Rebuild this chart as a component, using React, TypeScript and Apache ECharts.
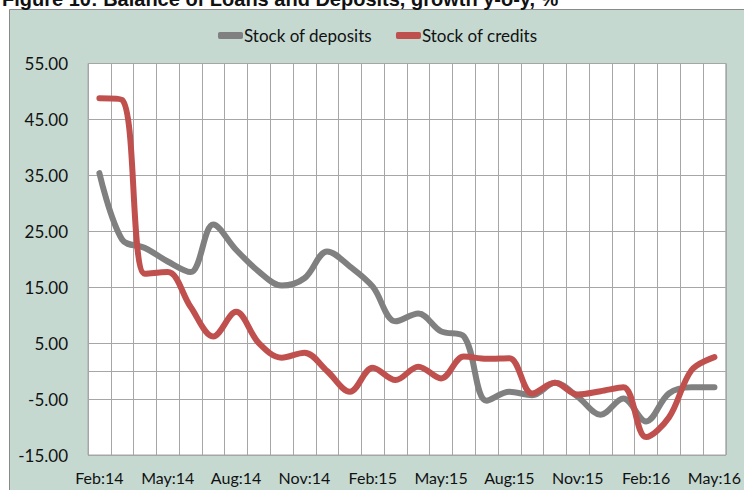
import React, { useEffect, useRef } from "react";
import * as echarts from "echarts";

const categories = [
  "Feb:14", "Mar:14", "Apr:14", "May:14", "Jun:14", "Jul:14", "Aug:14", "Sep:14", "Oct:14", "Nov:14", "Dec:14", "Jan:15",
  "Feb:15", "Mar:15", "Apr:15", "May:15", "Jun:15", "Jul:15", "Aug:15", "Sep:15", "Oct:15", "Nov:15", "Dec:15", "Jan:16",
  "Feb:16", "Mar:16", "Apr:16", "May:16",
];

const deposits = [
  35.4, 23.5, 22.0, 19.6, 17.7, 26.2, 21.7, 17.8, 15.3, 16.6, 21.4, 18.7,
  15.1, 8.9, 10.3, 7.1, 6.2, -5.3, -3.7, -4.3, -2.1, -4.6, -7.8, -4.9,
  -9.0, -4.0, -2.9, -2.9,
];

const credits = [
  48.8, 48.5, 17.4, 17.7, 11.5, 6.2, 10.6, 5.0, 2.4, 3.3, 0.0, -3.7,
  0.6, -1.6, 0.8, -1.3, 2.6, 2.2, 2.3, -4.0, -2.1, -4.2, -3.6, -2.9,
  -11.8, -8.3, 0.2, 2.5,
];

const seriesNames = ["Stock of deposits", "Stock of credits"];
const titleText = "Figure 10: Balance of Loans and Deposits, growth y-o-y, %";

export default function App() {
  const ref = useRef<HTMLDivElement>(null);
  useEffect(() => {
    if (!ref.current) return;
    const chart = echarts.init(ref.current, null, { renderer: "svg" });
    const font = "Lato, 'Open Sans', sans-serif";
    chart.setOption({
      animation: false,
      backgroundColor: "#ffffff",
      graphic: [
        {
          type: "rect",
          z: -10,
          silent: true,
          shape: { x: 9.5, y: 9.5, width: 760, height: 500 },
          style: { fill: "#c5d9d1", stroke: "#8a8a8a", lineWidth: 1 },
        },
        {
          type: "text",
          z: -5,
          silent: true,
          x: 2,
          y: 9,
          style: {
            text: titleText,
            font: "bold 20px 'Liberation Sans', Arial, sans-serif",
            fill: "#111111",
            verticalAlign: "bottom",
          },
        },
      ],
      legend: {
        data: seriesNames,
        left: 213,
        top: 22,
        icon: "roundRect",
        itemWidth: 25,
        itemHeight: 7,
        itemGap: 24,
        textStyle: {
          fontFamily: font,
          fontSize: 17,
          color: "#111111",
          padding: [0, 0, 0, -4],
        },
      },
      grid: {
        left: 88,
        top: 63.5,
        right: 16,
        bottom: 35,
        show: true,
        backgroundColor: "#ffffff",
        borderColor: "#a6a6a6",
        borderWidth: 1,
      },
      xAxis: {
        type: "category",
        data: categories,
        boundaryGap: true,
        axisLine: { show: false },
        axisTick: { show: false },
        axisLabel: {
          interval: 2,
          fontFamily: font,
          fontSize: 16,
          color: "#111111",
          margin: 14,
        },
        splitLine: {
          show: true,
          interval: 0,
          lineStyle: { color: "#a6a6a6", width: 1 },
        },
      },
      yAxis: {
        type: "value",
        min: -15,
        max: 55,
        interval: 10,
        axisLine: { show: false },
        axisTick: { show: false },
        axisLabel: {
          formatter: (v: number) => v.toFixed(2),
          fontFamily: font,
          fontSize: 17,
          color: "#111111",
          margin: 20,
        },
        splitLine: { show: true, lineStyle: { color: "#a6a6a6", width: 1 } },
      },
      series: [
        {
          name: seriesNames[0],
          type: "line",
          data: deposits,
          smooth: 0.35,
          symbol: "none",
          color: "#808080",
          lineStyle: { width: 6, color: "#808080", cap: "round", join: "round" },
          z: 3,
          markLine: {
            silent: true,
            symbol: "none",
            label: { show: false },
            lineStyle: { color: "#a6a6a6", width: 1, type: "solid" },
            data: [{ yAxis: 0 }],
            z: 1,
          },
        },
        {
          name: seriesNames[1],
          type: "line",
          data: credits,
          smooth: 0.35,
          symbol: "none",
          color: "#c0504d",
          lineStyle: { width: 6, color: "#c0504d", cap: "round", join: "round" },
          z: 4,
        },
      ],
    });
    return () => chart.dispose();
  }, []);
  return (
    <div
      ref={ref}
      style={{ position: "fixed", left: 0, top: 0, width: 744, height: 490 }}
    />
  );
}
